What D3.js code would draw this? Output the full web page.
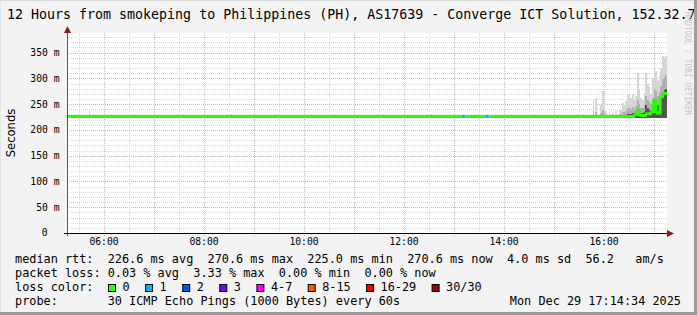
<!DOCTYPE html>
<html>
<head>
<meta charset="utf-8">
<script src="https://cdn.jsdelivr.net/npm/d3@7"></script>
<style>
  body { margin: 0; background: #f3f3f3; }
  svg text { font-family: "DejaVu Sans Mono", monospace; white-space: pre; fill: #000; }
</style>
</head>
<body>
<svg class="vis" width="697" height="315"></svg>
<script>

// ---- data ----

const title = '12 Hours from smokeping to Philippines (PH), AS17639 - Converge ICT Solution, 152.32.7';
const yTitle = 'Seconds';
const watermark = 'RRDTOOL / TOBI OETIKER';

const timeStart = '05:16:12';
const timeEnd = '17:16:12';
const yMax = 388;

// median rtt (ms), step series, with number of lost pings per sample
const medianTimes  = ['05:16','13:10','13:14','13:39','13:43','16:36','16:40','16:43','16:50','16:56','17:00','17:03','17:08','17:11'];
const medianValues = [226.0, 226.0, 226.0, 226.0, 226.0, 229.5, 237.0, 228.0, 231.0, 235.0, 257.0, 233.0, 265.0, 270.6];
const medianLoss   = [0, 1, 0, 1, 0, 0, 0, 0, 0, 0, 0, 0, 0, 0];

// smoke: spread of the 30 pings per sample (ms)
const smokeTimes = ['05:42','15:47','15:50','15:56','15:58','16:00','16:02','16:06','16:10','16:14','16:18','16:20','16:22','16:24','16:26','16:28','16:30','16:32','16:34','16:36','16:38','16:40','16:42','16:44','16:46','16:48','16:50','16:52','16:54','16:56','16:58','17:00','17:02','17:04','17:06','17:08','17:10','17:12','17:14'];
const smokeHigh  = [239, 260, 262, 248, 275, 244, 236, 234, 232, 236, 240, 238, 252, 248, 256, 268, 273, 262, 269, 258, 266, 310, 280, 262, 258, 272, 311, 290, 283, 270, 300, 329, 315, 296, 305, 320, 344, 340, 344];
const smokeMid   = [231, 236, 234, 233, 238, 232, 229, 229, 228, 229, 231, 230, 235, 234, 237, 242, 244, 240, 244, 240, 246, 258, 250, 243, 242, 248, 265, 258, 255, 250, 262, 280, 275, 266, 274, 286, 298, 302, 306];
const smokeDark  = [227, 227, 227, 227, 228, 227, 227, 227, 227, 227, 227, 227, 228, 228, 229, 230, 231, 230, 232, 232, 235, 240, 235, 233, 232, 235, 248, 243, 238, 238, 243, 258, 252, 248, 252, 262, 272, 278, 280];
const smokeBinMinutes = 2;

const rttLine   = 'median rtt:  226.6 ms avg  270.6 ms max  225.0 ms min  270.6 ms now  4.0 ms sd  56.2   am/s';
const lossLine  = 'packet loss: 0.03 % avg  3.33 % max  0.00 % min  0.00 % now';
const probeLine = 'probe:       30 ICMP Echo Pings (1000 Bytes) every 60s';
const stamp     = 'Mon Dec 29 17:14:34 2025';
const rttMin    = 225.0;

const lossLabels = ['0', '1', '2', '3', '4-7', '8-15', '16-29', '30/30'];
const lossColors = ['#26ff00', '#00b8ff', '#0059ff', '#7e00ff', '#ff00ff', '#ff5500', '#ff0000', '#a10000'];

// ---- layout ----

const W = 697, H = 315;
const plot = { l: 67, r: 667, t: 33, b: 233 };

const parse = d3.timeParse('%H:%M');
const parseS = d3.timeParse('%H:%M:%S');

const x = d3.scaleTime()
  .domain([parseS(timeStart), parseS(timeEnd)])
  .range([plot.l, plot.r]);

const y = d3.scaleLinear()
  .domain([0, yMax])
  .range([plot.b, plot.t]);

const svg = d3.select('svg.vis');

svg.append('rect').attr('width', W).attr('height', H).attr('fill', '#f3f3f3');

svg.append('rect')
  .attr('x', plot.l).attr('y', plot.t)
  .attr('width', plot.r - plot.l).attr('height', plot.b - plot.t)
  .attr('fill', '#fff');

// grid
const grid = svg.append('g').attr('shape-rendering', 'crispEdges');
const minorGrid = '#dadada', majorGrid = '#eaa6a6';

grid.selectAll('line.ymin')
  .data(y.ticks(40))
  .join('line')
  .attr('x1', plot.l).attr('x2', plot.r)
  .attr('y1', d => Math.round(y(d)) + 0.5).attr('y2', d => Math.round(y(d)) + 0.5)
  .attr('stroke', d => d % 50 === 0 ? majorGrid : minorGrid)
  .attr('stroke-dasharray', '1,1');

const vTicks = x.ticks(d3.timeMinute.every(30));
grid.selectAll('line.xmin')
  .data(vTicks)
  .join('line')
  .attr('x1', d => Math.round(x(d)) + 0.5).attr('x2', d => Math.round(x(d)) + 0.5)
  .attr('y1', plot.t).attr('y2', plot.b + 3)
  .attr('stroke', d => d.getMinutes() === 0 ? majorGrid : minorGrid)
  .attr('stroke-dasharray', '1,1');

// smoke
const smoke = svg.append('g').attr('shape-rendering', 'crispEdges');
const binW = t => x(d3.timeMinute.offset(t, smokeBinMinutes)) - x(t);
const layers = [
  { vals: smokeHigh, fill: '#d6d6d6' },
  { vals: smokeMid,  fill: '#b0b0b0' },
  { vals: smokeDark, fill: '#555' }
];
layers.forEach(layer => {
  smoke.selectAll(null)
    .data(smokeTimes.map((t, i) => ({ t: parse(t), v: layer.vals[i] })))
    .join('rect')
    .attr('x', d => x(d.t))
    .attr('width', d => binW(d.t))
    .attr('y', d => y(d.v))
    .attr('height', d => y(rttMin - 1) - y(d.v))
    .attr('fill', layer.fill);
});

// median line, coloured by loss
const mPts = medianTimes.map((t, i) => ({ t: parse(t), v: medianValues[i], loss: medianLoss[i] }));
const line = d3.line().x(d => x(d.t)).y(d => y(d.v)).curve(d3.curveStepAfter);
mPts.forEach((p, i) => {
  const next = i < mPts.length - 1 ? mPts[i + 1] : { t: parseS(timeEnd), v: p.v };
  svg.append('path')
    .attr('d', line([p, next]))
    .attr('fill', 'none')
    .attr('stroke', lossColors[p.loss])
    .attr('stroke-width', 3);
});

// axes
svg.append('line')
  .attr('x1', plot.l + 0.5).attr('x2', plot.l + 0.5)
  .attr('y1', plot.t - 1).attr('y2', plot.b + 3)
  .attr('stroke', '#555');
svg.append('line')
  .attr('x1', plot.l - 3).attr('x2', plot.r + 2)
  .attr('y1', plot.b + 0.5).attr('y2', plot.b + 0.5)
  .attr('stroke', '#000');
svg.append('path')
  .attr('d', `M${plot.l - 3},${plot.t} L${plot.l + 0.5},${plot.t - 7} L${plot.l + 4},${plot.t} Z`)
  .attr('fill', '#8b1a1a');
svg.append('path')
  .attr('d', `M${plot.r},${plot.b - 3} L${plot.r + 7},${plot.b + 0.5} L${plot.r},${plot.b + 4} Z`)
  .attr('fill', '#8b1a1a');

// tick labels
const xAxis = svg.append('g')
  .attr('transform', `translate(0,${plot.b})`)
  .call(d3.axisBottom(x).ticks(d3.timeHour.every(2)).tickFormat(d3.timeFormat('%H:%M')).tickSize(0));
xAxis.select('.domain').remove();
xAxis.selectAll('text')
  .attr('y', 12).attr('dy', 0)
  .attr('font-size', '9.7px')
  .attr('font-family', '"DejaVu Sans Mono", monospace')
  .attr('fill', '#000');

svg.append('g').selectAll('text')
  .data(y.ticks(8))
  .join('text')
  .attr('x', d => d === 0 ? 47.5 : 59.5)
  .attr('y', d => y(d))
  .attr('dy', '0.36em')
  .attr('text-anchor', 'end')
  .attr('font-size', '9.7px')
  .text(d => d === 0 ? '0' : d + ' m');

svg.append('text')
  .attr('transform', 'translate(15,133) rotate(-90)')
  .attr('text-anchor', 'middle')
  .style('font-family', '"DejaVu Sans", sans-serif')
  .attr('font-size', '11.6px')
  .text(yTitle);

// title
svg.append('text')
  .attr('x', 7).attr('y', 18.5)
  .attr('font-size', '13.3px')
  .text(title);

// watermark
svg.append('text')
  .attr('transform', 'translate(685,12) rotate(90)')
  .attr('font-size', '9px')
  .attr('textLength', 103)
  .attr('lengthAdjust', 'spacingAndGlyphs')
  .style('fill', '#c4c4c4')
  .text(watermark);

// legend
const legend = svg.append('g').attr('font-size', '11.85px');
legend.append('text').attr('x', 15).attr('y', 262.5).text(rttLine);
legend.append('text').attr('x', 15).attr('y', 276.5).text(lossLine);
legend.append('text').attr('x', 15).attr('y', 290.5).text('loss color:');
legend.append('text').attr('x', 15).attr('y', 304.5).text(probeLine);
legend.append('text').attr('x', 681).attr('y', 304.5).attr('text-anchor', 'end').text(stamp);

let bx = 108;
lossLabels.forEach((lab, i) => {
  legend.append('rect')
    .attr('x', bx + 0.5).attr('y', 284.5)
    .attr('width', 7).attr('height', 7)
    .attr('fill', lossColors[i])
    .attr('stroke', '#000');
  legend.append('text').attr('x', bx + 14.5).attr('y', 290.5).text(lab);
  bx += 30 + 7.1 * lab.length;
});

// frame
svg.append('path').attr('d', `M0,${H - 0.5} V0.5 H${W - 0.5}`).attr('fill', 'none').attr('stroke', '#d8d8d8');
svg.append('rect').attr('x', W - 3).attr('y', 0).attr('width', 3).attr('height', H).attr('fill', '#9c9c9c');
svg.append('rect').attr('x', 0).attr('y', H - 3).attr('width', W).attr('height', 3).attr('fill', '#9c9c9c');

</script>
</body>
</html>
